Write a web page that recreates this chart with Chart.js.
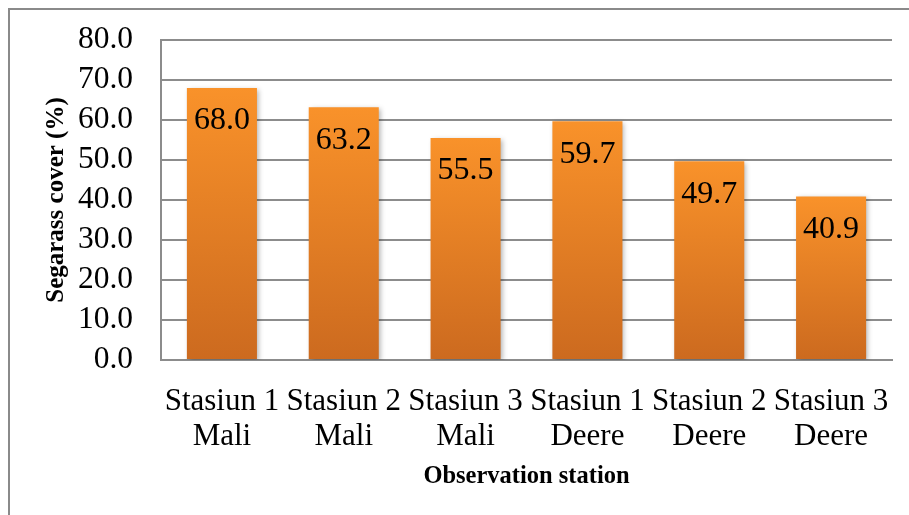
<!DOCTYPE html>
<html>
<head>
<meta charset="utf-8">
<script src="https://cdn.jsdelivr.net/npm/chart.js@4.4.1/dist/chart.umd.min.js"></script>
<style>
  html, body { margin: 0; padding: 0; background: #fff; overflow: hidden; }
  #wrap { position: relative; width: 909px; height: 515px; }
  #frame {
    position: absolute; left: 8px; top: 8px; width: 1000px; height: 1000px;
    border: 2px solid #8a8a8a; box-sizing: border-box; pointer-events: none;
  }
  canvas { position: absolute; left: 0; top: 0; }
</style>
</head>
<body>
<div id="wrap">
  <canvas id="coverChart" width="909" height="515"></canvas>
  <div id="frame"></div>
</div>
<script>
// Seagrass cover per station
const stations = [
  ['Stasiun 1', 'Mali'],
  ['Stasiun 2', 'Mali'],
  ['Stasiun 3', 'Mali'],
  ['Stasiun 1', 'Deere'],
  ['Stasiun 2', 'Deere'],
  ['Stasiun 3', 'Deere'],
];
const coverValues = [68.0, 63.2, 55.5, 59.7, 49.7, 40.9];
const yTicks = [0, 10, 20, 30, 40, 50, 60, 70, 80];

const SERIF = "'Liberation Serif', 'Times New Roman', serif";
const GRID = '#8c8c8c';

// Each bar fades from bright orange at the top to a darker burnt orange at the base
function barGradient(ctx) {
  const chart = ctx.chart;
  const y = chart.scales.y;
  if (!chart.chartArea || !y) return '#f08a28';
  const top = y.getPixelForValue(coverValues[ctx.dataIndex]);
  const bottom = y.getPixelForValue(0);
  const g = chart.ctx.createLinearGradient(0, top, 0, bottom);
  g.addColorStop(0, '#f9922a');
  g.addColorStop(1, '#cc6a1f');
  return g;
}

// Soft drop shadow behind the bars, then the value printed near each bar top
const barDecor = {
  id: 'barDecor',
  beforeDatasetsDraw(chart) {
    const c = chart.ctx;
    c.save();
    c.shadowColor = 'rgba(0,0,0,0.3)';
    c.shadowBlur = 5;
    c.shadowOffsetX = 2;
    c.shadowOffsetY = 2;
  },
  afterDatasetsDraw(chart) {
    const c = chart.ctx;
    c.restore();
    const meta = chart.getDatasetMeta(0);
    c.save();
    c.font = '32px ' + SERIF;
    c.fillStyle = '#000';
    c.textAlign = 'center';
    c.textBaseline = 'middle';
    meta.data.forEach((bar, i) => {
      c.fillText(coverValues[i].toFixed(1), bar.x, bar.y + 33);
    });
    c.restore();
  },
};

new Chart(document.getElementById('coverChart'), {
  type: 'bar',
  plugins: [barDecor],
  data: {
    labels: stations,
    datasets: [{
      data: coverValues,
      backgroundColor: barGradient,
      borderWidth: 0,
      barPercentage: 0.575,
      categoryPercentage: 1.0,
    }],
  },
  options: {
    responsive: false,
    animation: false,
    events: [],
    layout: { padding: { left: 0, top: 40, right: 17, bottom: 0 } },
    plugins: { legend: { display: false }, tooltip: { enabled: false } },
    scales: {
      x: {
        grid: { display: false },
        border: { display: true, color: GRID, width: 2 },
        ticks: {
          color: '#000',
          font: { family: SERIF, size: 31, lineHeight: 1.13 },
          padding: 16,
          maxRotation: 0,
          autoSkip: false,
        },
        title: {
          display: true,
          text: 'Observation station',
          color: '#000',
          font: { family: SERIF, size: 24.5, weight: 'bold' },
          padding: { top: 0, bottom: 24 },
        },
        afterFit(scale) { scale.height = 155; },
      },
      y: {
        min: 0,
        max: 80,
        afterBuildTicks(scale) { scale.ticks = yTicks.map(v => ({ value: v })); },
        grid: { color: GRID, lineWidth: 2, drawTicks: false },
        border: { display: true, color: GRID, width: 2 },
        ticks: {
          color: '#000',
          font: { family: SERIF, size: 31.5 },
          padding: 28,
          autoSkip: false,
          callback: v => Number(v).toFixed(1),
        },
        title: {
          display: true,
          text: 'Segarass cover (%)',
          color: '#000',
          font: { family: SERIF, size: 25, weight: 'bold' },
          padding: { top: 42, bottom: 0 },
        },
        afterFit(scale) {
          scale.width = 161;
          scale.paddingTop = 0;
          scale.paddingBottom = 0;
        },
      },
    },
  },
});
</script>
</body>
</html>
